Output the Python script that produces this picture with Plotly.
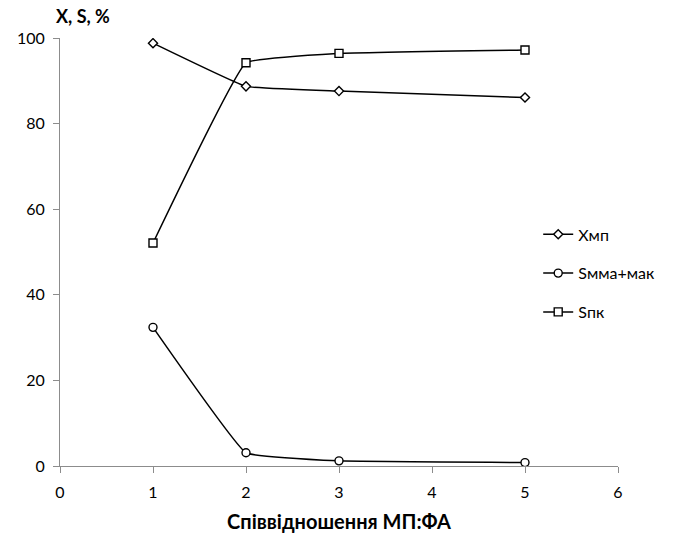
import plotly.graph_objects as go

ratio = [1, 2, 3, 5]
x_mp = [98.8, 88.7, 87.6, 86.1]
s_mma_mak = [32.4, 3.1, 1.2, 0.8]
s_pk = [52.1, 94.2, 96.4, 97.2]

series = [
    ("Xмп", x_mp, "diamond", 7),
    ("Sмма+мак", s_mma_mak, "circle", 8),
    ("Sпк", s_pk, "square", 8),
]

FONT = "Lato, 'Open Sans', sans-serif"

fig = go.Figure()
for i, (name, vals, sym, size) in enumerate(series):
    fig.add_trace(go.Scatter(
        x=ratio, y=vals, name=name, mode="lines+markers",
        line=dict(color="black", width=1.5, shape="spline", smoothing=0.25),
        marker=dict(symbol=sym, size=size, color="white",
                    line=dict(color="black", width=1.4)),
        legendgroup=str(i),
    ))

fig.update_layout(
    width=674, height=533,
    margin=dict(l=60, r=56, t=38, b=67),
    paper_bgcolor="white", plot_bgcolor="white",
    font=dict(family=FONT, size=16, color="black"),
    showlegend=True,
    legend=dict(x=0.857, y=0.45, xanchor="left", yanchor="middle",
                traceorder="grouped", tracegroupgap=15,
                font=dict(family=FONT, size=16, color="black"),
                bgcolor="rgba(0,0,0,0)", itemwidth=30),
    xaxis=dict(range=[0, 6], tickvals=[0, 1, 2, 3, 4, 5, 6],
               showline=True, linecolor="#8c8c8c", linewidth=1,
               ticks="outside", tickcolor="#8c8c8c", ticklen=6,
               ticklabelstandoff=6, automargin=False,
               showgrid=False, zeroline=False,
               title=dict(text="<b>Співвідношення МП:ФА</b>",
                          font=dict(family=FONT, size=20),
                          standoff=14)),
    yaxis=dict(range=[0, 100], tickvals=[0, 20, 40, 60, 80, 100],
               showline=True, linecolor="#8c8c8c", linewidth=1,
               ticks="outside", tickcolor="#8c8c8c", ticklen=6,
               ticklabelstandoff=5, automargin=False,
               showgrid=False, zeroline=False),
    annotations=[dict(text="<b>X, S, %</b>", x=0, y=1, xref="paper", yref="paper",
                      xanchor="left", yanchor="bottom", xshift=-6, yshift=9,
                      showarrow=False,
                      font=dict(family=FONT, size=18))],
)

fig.write_html("out.html")
